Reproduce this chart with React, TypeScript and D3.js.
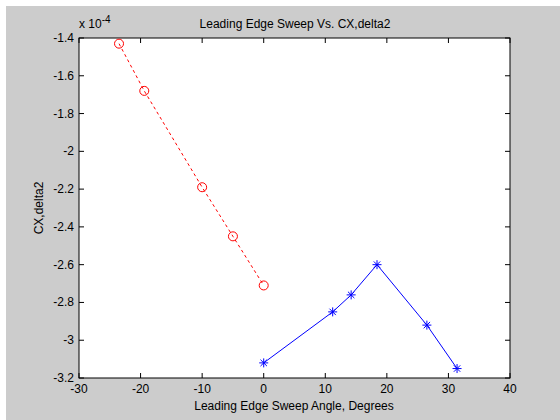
import React from "react";
import * as d3 from "d3";

const redX = [-23.5, -19.4, -10, -5, 0];
const redY = [-1.43, -1.68, -2.19, -2.45, -2.71];
const blueX = [0, 11.2, 14.2, 18.4, 26.5, 31.4];
const blueY = [-3.12, -2.85, -2.76, -2.6, -2.92, -3.15];
const xTicks = [-30, -20, -10, 0, 10, 20, 30, 40];
const yTicks = [-1.4, -1.6, -1.8, -2, -2.2, -2.4, -2.6, -2.8, -3, -3.2];

const W = 560, H = 420;
const L = 79, R = 510, T = 38, B = 378;
const font = "Liberation Sans, Arial, sans-serif";

export default function App() {
  const x = d3.scaleLinear().domain([-30, 40]).range([L, R]);
  const y = d3.scaleLinear().domain([-1.4, -3.2]).range([T, B]);
  const line = d3.line<[number, number]>().x(d => x(d[0])).y(d => y(d[1]));
  const red: [number, number][] = redX.map((v, i) => [v, redY[i]]);
  const blue: [number, number][] = blueX.map((v, i) => [v, blueY[i]]);
  const tl = 5;
  return (
    <svg width={W} height={H} style={{ position: "absolute", left: 0, top: 0 }} fontFamily={font}>
      <rect x={0} y={0} width={W} height={H} fill="#ffffff" />
      <rect x={6} y={6} width={W - 6} height={H - 6} fill="#cccccc" />
      <rect x={L} y={T} width={R - L} height={B - T} fill="#ffffff" />
      {xTicks.map(t => (
        <g key={"x" + t}>
          <line x1={x(t)} x2={x(t)} y1={B} y2={B - tl} stroke="#000" />
          <line x1={x(t)} x2={x(t)} y1={T} y2={T + tl} stroke="#000" />
          <text x={x(t)} y={393} fontSize={12} textAnchor="middle" fill="#000">{t}</text>
        </g>
      ))}
      {yTicks.map(t => (
        <g key={"y" + t}>
          <line x1={L} x2={L + tl} y1={y(t)} y2={y(t)} stroke="#000" />
          <line x1={R} x2={R - tl} y1={y(t)} y2={y(t)} stroke="#000" />
          <text x={74} y={y(t) + 4} fontSize={12} textAnchor="end" fill="#000">{String(t)}</text>
        </g>
      ))}
      <rect x={L} y={T} width={R - L} height={B - T} fill="none" stroke="#000" />
      <path d={line(red) || ""} fill="none" stroke="#ff0000" strokeWidth={1} strokeDasharray="3,3" />
      {red.map((d, i) => (
        <circle key={"r" + i} cx={x(d[0])} cy={y(d[1])} r={4.5} fill="none" stroke="#ff0000" />
      ))}
      <path d={line(blue) || ""} fill="none" stroke="#0000ff" strokeWidth={1} />
      {blue.map((d, i) => {
        const cx = x(d[0]), cy = y(d[1]), s = 4.5, s2 = 3.2;
        return (
          <g key={"b" + i} stroke="#0000ff" strokeWidth={1}>
            <line x1={cx - s} x2={cx + s} y1={cy} y2={cy} />
            <line x1={cx} x2={cx} y1={cy - s} y2={cy + s} />
            <line x1={cx - s2} x2={cx + s2} y1={cy - s2} y2={cy + s2} />
            <line x1={cx - s2} x2={cx + s2} y1={cy + s2} y2={cy - s2} />
          </g>
        );
      })}
      <text x={79} y={28} fontSize={12} fill="#000">x 10<tspan dy={-5} fontSize={10}>-4</tspan></text>
      <text x={295} y={28} fontSize={12} textAnchor="middle" fill="#000">Leading Edge Sweep Vs. CX,delta2</text>
      <text x={294} y={410} fontSize={12} textAnchor="middle" fill="#000">Leading Edge Sweep Angle, Degrees</text>
      <text transform={`translate(43,${(T + B) / 2}) rotate(-90)`} fontSize={12} textAnchor="middle" fill="#000">CX,delta2</text>
    </svg>
  );
}
